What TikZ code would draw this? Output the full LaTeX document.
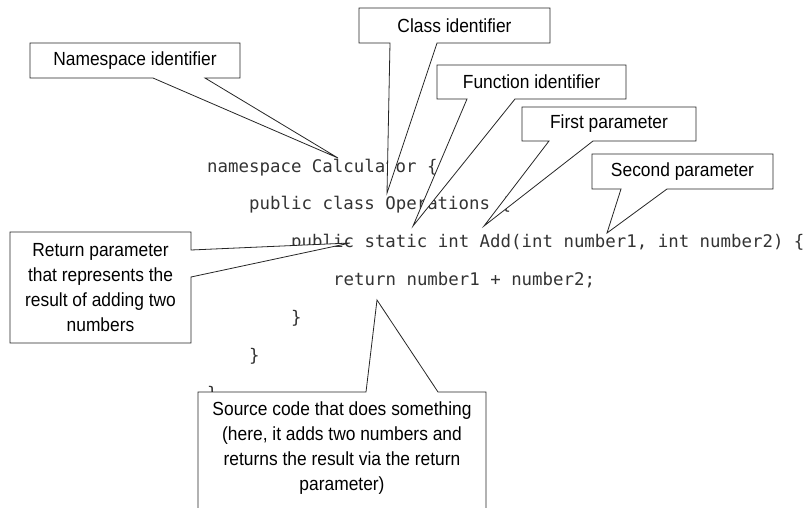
\documentclass[tikz,border=0pt]{standalone}
\usepackage{fontspec}
\newfontfamily\lblfont{Liberation Sans}[FakeStretch=0.915]
\newfontfamily\codefont{DejaVu Sans Mono}
\begin{document}
\begin{tikzpicture}[x=1pt, y=-1pt,
  code/.style={anchor=base west, inner sep=0pt, text=black!80, font=\codefont\fontsize{17.4}{20}\selectfont},
  lbl/.style={align=center, inner sep=0pt, text=black, font=\lblfont\fontsize{19}{25}\selectfont},
  callout/.style={draw=black!85, fill=white, line width=0.8pt, line join=miter}]
\useasboundingbox (0,0) rectangle (806,507);
\node[code] (l1) at (207,172) {namespace Calculator \{};
\node[code] (l2) at (249,209.5) {public class Operations \{};
\node[code] (l3) at (291,247) {public static int Add(int number1, int number2) \{};
\node[code] (l4) at (333,285) {return number1 + number2;};
\node[code] (l5) at (291,323) {\}};
\node[code] (l6) at (249,361) {\}};
\node[code] (l7) at (207,399) {\}};
\coordinate (nsTip) at (338,158);
\coordinate (clsTip) at (387,193);
\coordinate (fnTip) at (413,226);
\coordinate (p1Tip) at (484,226);
\coordinate (p2Tip) at (607,233);
\coordinate (retTip) at (350,243);
\coordinate (srcTip) at (377,300);
\filldraw[callout] (30,43) -- (240,43) -- (240,78) -- (205,78) -- (nsTip) -- (153,78) -- (30,78) -- cycle;
\filldraw[callout] (359,8) -- (550,8) -- (550,43) -- (437,43) -- (clsTip) -- (390,43) -- (359,43) -- cycle;
\filldraw[callout] (437,65) -- (626,65) -- (626,99) -- (515,99) -- (fnTip) -- (467,99) -- (437,99) -- cycle;
\filldraw[callout] (522,107) -- (696,107) -- (696,141) -- (593,141) -- (p1Tip) -- (549,141) -- (522,141) -- cycle;
\filldraw[callout] (592,154) -- (773,154) -- (773,189) -- (667,189) -- (p2Tip) -- (621,189) -- (592,189) -- cycle;
\filldraw[callout] (10,232) -- (191,232) -- (191,250) -- (retTip) -- (191,277) -- (191,343) -- (10,343) -- cycle;
\filldraw[callout] (198,515) -- (198,392) -- (366,392) -- (srcTip) -- (438,392) -- (486,392) -- (486,515);
\node[lbl] (ns) at (135,60.5) {Namespace identifier};
\node[lbl] (cls) at (454.5,25.5) {Class identifier};
\node[lbl] (fn) at (531.5,82) {Function identifier};
\node[lbl] (p1) at (609,124) {First parameter};
\node[lbl] (p2) at (682.5,171.5) {Second parameter};
\node[lbl] (ret) at (100.5,287.5) {Return parameter\\that represents the\\result of adding two\\numbers};
\node[lbl] (src) at (342,448) {Source code that does something\\(here, it adds two numbers and\\returns the result via the return\\parameter)};
\end{tikzpicture}
\end{document}
